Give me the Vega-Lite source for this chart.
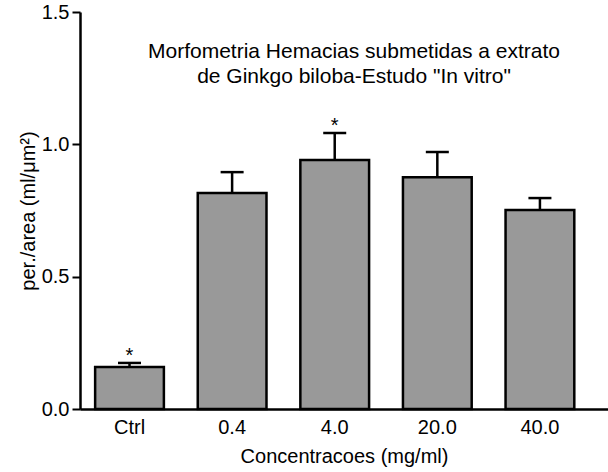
{
  "$schema": "https://vega.github.io/schema/vega-lite/v6.json",
  "width": 528,
  "height": 397,
  "autosize": {"type": "none"},
  "padding": {"left": 80, "top": 12, "right": 0, "bottom": 63},
  "background": "white",
  "config": {
    "font": "Liberation Sans",
    "view": {"stroke": null},
    "axis": {
      "domainColor": "black",
      "tickColor": "black",
      "labelColor": "black",
      "titleColor": "black",
      "grid": false,
      "labelFont": "Liberation Sans",
      "titleFont": "Liberation Sans",
      "titleFontWeight": "normal",
      "labelFontSize": 20,
      "titleFontSize": 20
    }
  },
  "title": {
    "text": ["Morfometria Hemacias submetidas a extrato", "de Ginkgo biloba-Estudo \"In vitro\""],
    "fontSize": 21,
    "fontWeight": "normal",
    "font": "Liberation Sans",
    "color": "black",
    "anchor": "middle",
    "dx": 10,
    "offset": -102,
    "baseline": "alphabetic",
    "lineHeight": 25
  },
  "data": {
    "values": [
      {"conc": "Ctrl", "mean": 0.159, "upper": 0.174, "sig": "*"},
      {"conc": "0.4", "mean": 0.816, "upper": 0.895, "sig": ""},
      {"conc": "4.0", "mean": 0.941, "upper": 1.043, "sig": "*"},
      {"conc": "20.0", "mean": 0.876, "upper": 0.971, "sig": ""},
      {"conc": "40.0", "mean": 0.752, "upper": 0.797, "sig": ""}
    ]
  },
  "encoding": {
    "x": {
      "field": "conc",
      "type": "nominal",
      "sort": null,
      "scale": {"paddingInner": 0.33, "paddingOuter": 0.238, "align": 0.31},
      "axis": {
        "ticks": false,
        "domainWidth": 2.5,
        "labelPadding": 8,
        "labelAngle": 0,
        "titlePadding": 9
      },
      "title": "Concentracoes (mg/ml)"
    }
  },
  "layer": [
    {
      "mark": {"type": "bar", "fill": "#999999", "stroke": "black", "strokeWidth": 2.5},
      "encoding": {
        "y": {
          "field": "mean",
          "type": "quantitative",
          "scale": {"domain": [0, 1.5], "nice": false},
          "title": "per./area (ml/μm²)",
          "axis": {
            "values": [0, 0.5, 1, 1.5],
            "format": ".1f",
            "tickSize": 8,
            "tickWidth": 2,
            "domainWidth": 2.5,
            "labelPadding": 3,
            "labelFlush": false,
            "labelOverlap": false,
            "titlePadding": 3
          }
        }
      }
    },
    {
      "mark": {"type": "rule", "strokeWidth": 2.5, "color": "black"},
      "encoding": {
        "y": {"field": "mean", "type": "quantitative", "scale": {"domain": [0, 1.5], "nice": false}, "title": "per./area (ml/μm²)"},
        "y2": {"field": "upper"}
      }
    },
    {
      "mark": {"type": "tick", "orient": "horizontal", "size": 23, "thickness": 2.5, "color": "black", "opacity": 1},
      "encoding": {
        "y": {"field": "upper", "type": "quantitative", "scale": {"domain": [0, 1.5], "nice": false}, "title": "per./area (ml/μm²)"}
      }
    },
    {
      "mark": {"type": "text", "fontSize": 20, "baseline": "alphabetic", "dy": -1, "color": "black"},
      "encoding": {
        "y": {"field": "upper", "type": "quantitative", "scale": {"domain": [0, 1.5], "nice": false}, "title": "per./area (ml/μm²)"},
        "text": {"field": "sig"}
      }
    }
  ]
}
